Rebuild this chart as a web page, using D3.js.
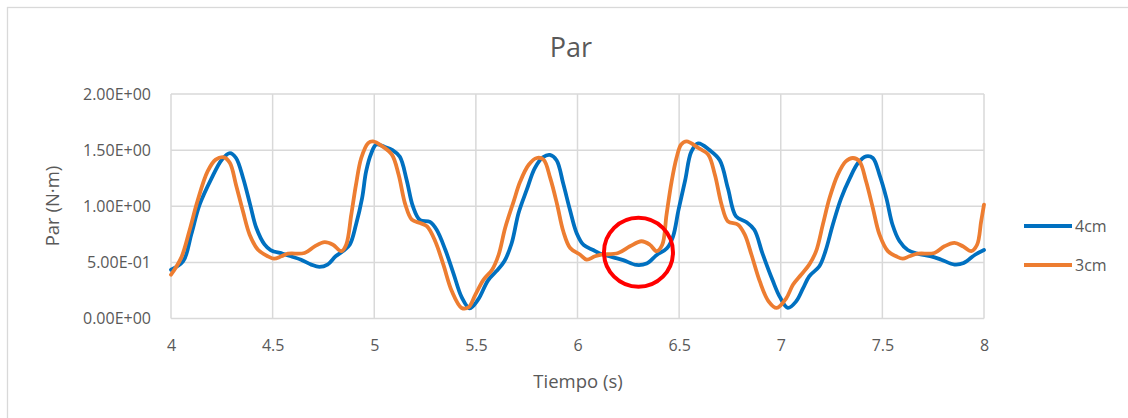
<!DOCTYPE html>
<html>
<head>
<meta charset="utf-8">
<script src="https://cdn.jsdelivr.net/npm/d3@7"></script>
<style>
  html, body { margin: 0; padding: 0; background: #fff; }
  svg { display: block; font-family: "Open Sans", "Liberation Sans", sans-serif; }
</style>
</head>
<body>
<svg id="chart" width="1128" height="418"></svg>
<script>
// Torque (Par) vs time for two lever lengths
const tiempo4 = [4.00, 4.06, 4.10, 4.14, 4.20, 4.25, 4.29, 4.32, 4.355, 4.39, 4.42, 4.46, 4.49, 4.55, 4.59, 4.64, 4.69, 4.73, 4.77, 4.81, 4.846, 4.88, 4.91, 4.94, 4.96, 4.985, 5.01, 5.05, 5.09, 5.126, 5.16, 5.19, 5.225, 5.274, 5.307, 5.35, 5.39, 5.43, 5.47, 5.51, 5.56, 5.60, 5.64, 5.676, 5.71, 5.75, 5.79, 5.83, 5.864, 5.897, 5.93, 5.963, 5.996, 6.03, 6.077, 6.11, 6.176, 6.225, 6.29, 6.34, 6.39, 6.44, 6.47, 6.497, 6.53, 6.56, 6.594, 6.65, 6.70, 6.74, 6.78, 6.83, 6.87, 6.91, 6.96, 6.996, 7.035, 7.076, 7.11, 7.14, 7.19, 7.22, 7.256, 7.297, 7.34, 7.38, 7.42, 7.453, 7.486, 7.52, 7.55, 7.584, 7.625, 7.674, 7.74, 7.79, 7.855, 7.90, 7.956, 8.00];
const par4 = [0.435, 0.51, 0.75, 1.01, 1.25, 1.415, 1.474, 1.43, 1.25, 1.01, 0.806, 0.66, 0.61, 0.577, 0.554, 0.524, 0.48, 0.46, 0.48, 0.554, 0.60, 0.66, 0.835, 1.07, 1.31, 1.47, 1.55, 1.53, 1.50, 1.44, 1.23, 1.0, 0.877, 0.86, 0.79, 0.61, 0.40, 0.19, 0.09, 0.165, 0.34, 0.42, 0.51, 0.67, 0.94, 1.145, 1.34, 1.436, 1.457, 1.41, 1.20, 0.967, 0.76, 0.655, 0.61, 0.58, 0.545, 0.52, 0.477, 0.49, 0.566, 0.625, 0.73, 0.967, 1.234, 1.486, 1.56, 1.50, 1.41, 1.16, 0.91, 0.86, 0.79, 0.58, 0.34, 0.19, 0.094, 0.153, 0.27, 0.376, 0.465, 0.60, 0.835, 1.07, 1.25, 1.385, 1.445, 1.43, 1.28, 1.07, 0.835, 0.69, 0.61, 0.577, 0.554, 0.524, 0.48, 0.494, 0.568, 0.61];

const tiempo3 = [4.00, 4.05, 4.09, 4.13, 4.18, 4.22, 4.26, 4.29, 4.32, 4.354, 4.387, 4.428, 4.477, 4.507, 4.543, 4.575, 4.657, 4.707, 4.756, 4.797, 4.838, 4.862, 4.887, 4.91, 4.936, 4.97, 4.994, 5.04, 5.087, 5.12, 5.153, 5.185, 5.226, 5.26, 5.30, 5.34, 5.382, 5.43, 5.464, 5.497, 5.538, 5.58, 5.612, 5.644, 5.686, 5.718, 5.76, 5.80, 5.833, 5.866, 5.90, 5.93, 5.964, 6.013, 6.045, 6.086, 6.118, 6.20, 6.258, 6.315, 6.356, 6.389, 6.417, 6.438, 6.463, 6.487, 6.51, 6.537, 6.594, 6.643, 6.676, 6.709, 6.74, 6.79, 6.823, 6.856, 6.897, 6.94, 6.98, 7.027, 7.06, 7.10, 7.14, 7.174, 7.207, 7.24, 7.28, 7.32, 7.355, 7.387, 7.42, 7.453, 7.486, 7.527, 7.568, 7.60, 7.633, 7.674, 7.756, 7.805, 7.855, 7.896, 7.937, 7.966, 7.986, 8.00];
const par3 = [0.39, 0.54, 0.777, 1.044, 1.31, 1.415, 1.436, 1.385, 1.19, 0.955, 0.747, 0.613, 0.554, 0.533, 0.554, 0.577, 0.584, 0.643, 0.68, 0.657, 0.60, 0.657, 0.925, 1.19, 1.43, 1.563, 1.578, 1.534, 1.46, 1.28, 1.014, 0.88, 0.85, 0.82, 0.688, 0.48, 0.242, 0.094, 0.10, 0.21, 0.346, 0.435, 0.568, 0.806, 1.044, 1.22, 1.37, 1.43, 1.415, 1.25, 1.014, 0.777, 0.628, 0.568, 0.524, 0.554, 0.568, 0.584, 0.643, 0.688, 0.657, 0.60, 0.657, 0.925, 1.22, 1.43, 1.55, 1.578, 1.52, 1.46, 1.28, 1.014, 0.866, 0.836, 0.747, 0.568, 0.33, 0.153, 0.094, 0.18, 0.30, 0.39, 0.48, 0.60, 0.836, 1.073, 1.28, 1.40, 1.43, 1.40, 1.22, 0.985, 0.747, 0.60, 0.554, 0.533, 0.554, 0.577, 0.584, 0.643, 0.673, 0.643, 0.60, 0.657, 0.866, 1.014];

const seriesNames = ["4cm", "3cm"];
const seriesColors = ["#0070C0", "#ED7D31"];
const xTicks = [4, 4.5, 5, 5.5, 6, 6.5, 7, 7.5, 8];
const yTicks = [0, 0.5, 1.0, 1.5, 2.0];
// highlighted point of interest (time, torque)
const highlight = [6.3, 0.59];

const svg = d3.select("#chart");
const W = 1128, H = 418;
const plot = { left: 171, right: 984, top: 94, bottom: 318.5 };

const x = d3.scaleLinear().domain([4, 8]).range([plot.left, plot.right]);
const y = d3.scaleLinear().domain([0, 2]).range([plot.bottom, plot.top]);

// Excel-like scientific notation: 1.50E+00, 5.00E-01
function sci(v) {
  if (v === 0) return "0.00E+00";
  const e = Math.floor(Math.log10(Math.abs(v)));
  const m = v / Math.pow(10, e);
  const sign = e < 0 ? "-" : "+";
  const ee = String(Math.abs(e)).padStart(2, "0");
  return m.toFixed(2) + "E" + sign + ee;
}

// chart frame
svg.append("rect")
  .attr("x", 7.5).attr("y", 7.5)
  .attr("width", W + 20).attr("height", H + 20)
  .attr("fill", "#fff").attr("stroke", "#d9d9d9").attr("stroke-width", 1.3);

// title
svg.append("text")
  .attr("x", 571).attr("y", 57)
  .attr("text-anchor", "middle")
  .attr("font-size", 27).attr("fill", "#595959")
  .text("Par");

// gridlines
const grid = svg.append("g");
grid.selectAll("line.h").data(yTicks).join("line")
  .attr("x1", plot.left).attr("x2", plot.right)
  .attr("y1", d => y(d)).attr("y2", d => y(d))
  .attr("stroke", "#d9d9d9").attr("stroke-width", 1.5);
grid.selectAll("line.v").data(xTicks).join("line")
  .attr("x1", d => x(d)).attr("x2", d => x(d))
  .attr("y1", plot.top).attr("y2", plot.bottom)
  .attr("stroke", "#d9d9d9").attr("stroke-width", 1.5);

// axes (labels only; lines come from the grid)
const xAxis = svg.append("g")
  .attr("transform", `translate(0,${plot.bottom})`)
  .call(d3.axisBottom(x).tickValues(xTicks).tickSize(0).tickPadding(21).tickFormat(d3.format("")));
const yAxis = svg.append("g")
  .attr("transform", `translate(${plot.left},0)`)
  .call(d3.axisLeft(y).tickValues(yTicks).tickSize(0).tickPadding(20).tickFormat(sci));
[xAxis, yAxis].forEach(g => {
  g.select(".domain").remove();
  g.selectAll("text")
    .attr("font-family", "'Open Sans', sans-serif")
    .attr("font-size", 16).attr("fill", "#595959");
});

// axis titles
svg.append("text")
  .attr("x", 578).attr("y", 388)
  .attr("text-anchor", "middle")
  .attr("font-size", 18.5).attr("fill", "#595959")
  .text("Tiempo (s)");
svg.append("text")
  .attr("transform", "translate(59,206) rotate(-90)")
  .attr("text-anchor", "middle")
  .attr("font-size", 18.5).attr("fill", "#595959")
  .text("Par (N·m)");

// series
const line = d3.line()
  .x(d => x(d[0])).y(d => y(d[1]))
  .curve(d3.curveCatmullRom.alpha(0.5));
const series = [
  d3.zip(tiempo4, par4),
  d3.zip(tiempo3, par3)
];
svg.append("g").selectAll("path").data(series).join("path")
  .attr("d", line)
  .attr("fill", "none")
  .attr("stroke", (d, i) => seriesColors[i])
  .attr("stroke-width", 3.8)
  .attr("stroke-linejoin", "round")
  .attr("stroke-linecap", "round");

// highlight circle
svg.append("circle")
  .attr("cx", x(highlight[0])).attr("cy", y(highlight[1]))
  .attr("r", 34.5)
  .attr("fill", "none").attr("stroke", "#FF0000").attr("stroke-width", 4);

// legend
const legend = svg.append("g");
const ly = [226, 265];
seriesNames.forEach((name, i) => {
  legend.append("line")
    .attr("x1", 1024).attr("x2", 1072)
    .attr("y1", ly[i]).attr("y2", ly[i])
    .attr("stroke", seriesColors[i]).attr("stroke-width", 3.8);
  legend.append("text")
    .attr("x", 1075).attr("y", ly[i])
    .attr("dy", "0.35em")
    .attr("font-size", 16).attr("fill", "#595959")
    .text(name);
});
</script>
</body>
</html>
